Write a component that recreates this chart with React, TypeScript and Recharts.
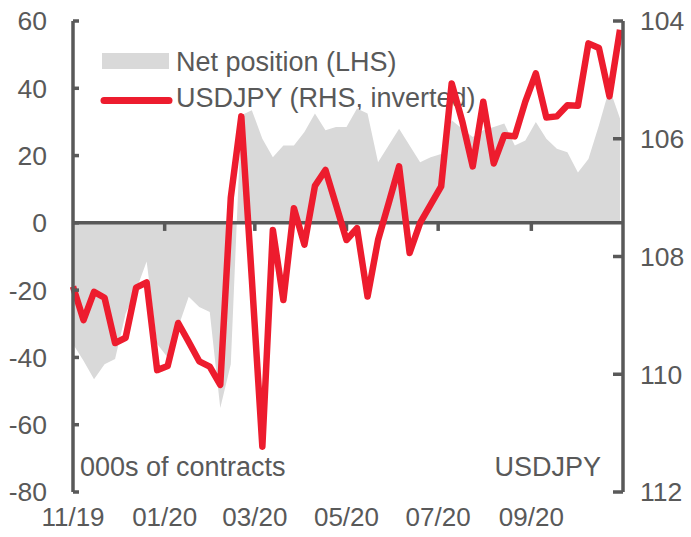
import React from "react"
import { ComposedChart, Area, Line, XAxis, YAxis, ReferenceLine } from "recharts"

// weekly observations
const dates = [
  "2019-11-01", "2019-11-08", "2019-11-15", "2019-11-22", "2019-11-29",
  "2019-12-06", "2019-12-13", "2019-12-20", "2019-12-27",
  "2020-01-03", "2020-01-10", "2020-01-17", "2020-01-24", "2020-01-31",
  "2020-02-07", "2020-02-14", "2020-02-21", "2020-02-28",
  "2020-03-06", "2020-03-13", "2020-03-20", "2020-03-27",
  "2020-04-03", "2020-04-10", "2020-04-17", "2020-04-24",
  "2020-05-01", "2020-05-08", "2020-05-15", "2020-05-22", "2020-05-29",
  "2020-06-05", "2020-06-12", "2020-06-19", "2020-06-26",
  "2020-07-03", "2020-07-10", "2020-07-17", "2020-07-24", "2020-07-31",
  "2020-08-07", "2020-08-14", "2020-08-21", "2020-08-28",
  "2020-09-04", "2020-09-11", "2020-09-18", "2020-09-25",
  "2020-10-02", "2020-10-09", "2020-10-16", "2020-10-23", "2020-10-30",
]

// net position, 000s of contracts (LHS)
const netPosition = [
  -36, -41, -46.5, -42, -40.5,
  -27, -20, -11.5, -36,
  -40, -31, -22, -25, -26.5,
  -55, -42, 32, 33.5,
  25, 19.5, 23, 23,
  27, 32.5, 27.5, 28.5,
  28.5, 34, 32.5, 18, 23,
  28, 23, 18, 19.5,
  20.5, 30.5, 28, 25.5, 27.5,
  28.5, 29.5, 23, 24.5,
  30, 25, 22, 21,
  15, 19, 29, 40, 31,
]

// USDJPY (RHS, inverted)
const usdjpy = [
  108.51, 109.08, 108.6, 108.7, 109.47,
  109.38, 108.53, 108.44, 109.93,
  109.86, 109.13, 109.45, 109.78, 109.87,
  110.18, 107.0, 105.62, 108.38,
  111.23, 107.55, 108.74, 107.18,
  107.8, 106.8, 106.53, 107.12,
  107.72, 107.52, 108.68, 107.72, 107.1,
  106.47, 107.94, 107.43, 107.12,
  106.81, 105.06, 105.7, 106.47, 105.37,
  106.42, 105.94, 105.96, 105.37,
  104.89, 105.64, 105.62, 105.43,
  105.44, 104.38, 104.46, 105.28, 104.15,
]

const tickDates = ["2019-11-01", "2020-01-01", "2020-03-01", "2020-05-01", "2020-07-01", "2020-09-01", "2020-11-01"]
const tickLabels = ["11/19", "01/20", "03/20", "05/20", "07/20", "09/20", ""]
const leftTicks = [-80, -60, -40, -20, 0, 20, 40, 60]
const rightTicks = [104, 106, 108, 110, 112]

const GREY_TEXT = "#595959"
const RED = "#ED1C2E"
const AREA_GREY = "#D9D9D9"

const data = dates.map((d, i) => ({ t: Date.parse(d), net: netPosition[i], usdjpy: usdjpy[i] }))
const tickTs = tickDates.map((d) => Date.parse(d))

export default function App() {
  return (
    <div style={{ position: "absolute", left: 0, top: 0, width: 691, height: 537, fontFamily: "'Liberation Sans', Arial, sans-serif" }}>
      {/* legend and notes sit under the series, like the original */}
      <svg width={691} height={537} style={{ position: "absolute", left: 0, top: 0 }}>
        <rect x={102} y={53} width={67} height={16} fill={AREA_GREY} />
        <line x1={104} x2={169} y1={100.5} y2={100.5} stroke={RED} strokeWidth={7} strokeLinecap="round" />
        <text x={176} y={71} fontSize={27} fill={GREY_TEXT}>Net position (LHS)</text>
        <text x={176} y={107} fontSize={27} fill={GREY_TEXT}>USDJPY (RHS, inverted)</text>
        <text x={80} y={476} fontSize={27} fill={GREY_TEXT}>000s of contracts</text>
        <text x={601} y={476} fontSize={27} fill={GREY_TEXT} textAnchor="end">USDJPY</text>
      </svg>
      <div style={{ position: "absolute", left: 0, top: 0 }}>
        <ComposedChart width={691} height={537} data={data} margin={{ top: 21, right: 0, bottom: 0, left: 0 }}>
          <XAxis
            dataKey="t"
            type="number"
            domain={[tickTs[0], tickTs[tickTs.length - 1]]}
            ticks={tickTs}
            interval={0}
            tickFormatter={(v) => tickLabels[tickTs.indexOf(v)] ?? ""}
            axisLine={false}
            tickLine={false}
            tickSize={0}
            tickMargin={16}
            height={45}
            tick={{ fill: GREY_TEXT, fontSize: 26 }}
          />
          <YAxis
            yAxisId="left"
            domain={[-80, 60]}
            ticks={leftTicks}
            interval={0}
            width={73}
            tickSize={-6}
            tickMargin={32}
            axisLine={{ stroke: GREY_TEXT, strokeWidth: 3.5 }}
            tickLine={{ stroke: GREY_TEXT, strokeWidth: 3.5 }}
            tick={{ fill: GREY_TEXT, fontSize: 26.5 }}
          />
          <YAxis
            yAxisId="right"
            orientation="right"
            domain={[104, 112]}
            reversed
            ticks={rightTicks}
            interval={0}
            width={68}
            tickSize={-10}
            tickMargin={27}
            axisLine={{ stroke: GREY_TEXT, strokeWidth: 3.5 }}
            tickLine={{ stroke: GREY_TEXT, strokeWidth: 3.5 }}
            tick={{ fill: GREY_TEXT, fontSize: 26.5 }}
          />
          <Area
            yAxisId="left"
            type="linear"
            dataKey="net"
            baseValue={0}
            stroke="none"
            fill={AREA_GREY}
            fillOpacity={1}
            isAnimationActive={false}
          />
          <ReferenceLine yAxisId="left" y={0} stroke={GREY_TEXT} strokeWidth={3.5} />
          {tickTs.slice(1, -1).map((ts) => (
            <ReferenceLine
              key={ts}
              yAxisId="left"
              segment={[{ x: ts, y: 0 }, { x: ts, y: -2.4 }]}
              stroke={GREY_TEXT}
              strokeWidth={3.5}
            />
          ))}
          <Line
            yAxisId="right"
            type="linear"
            dataKey="usdjpy"
            stroke={RED}
            strokeWidth={6.5}
            strokeLinejoin="round"
            dot={false}
            activeDot={false}
            isAnimationActive={false}
          />
        </ComposedChart>
      </div>
    </div>
  )
}
